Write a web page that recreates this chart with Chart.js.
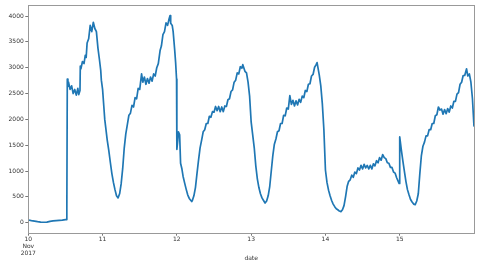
<!DOCTYPE html>
<html><head><meta charset="utf-8">
<script src="https://cdn.jsdelivr.net/npm/chart.js@4"></script>
<style>html,body{margin:0;padding:0;background:#fff}#w{width:500px;height:265px}</style>
</head><body><div id="w"><canvas id="c"></canvas></div>
<script>
// time in hours since 2017-11-10 00:00
const hours = [0,1,2,3,4,5,6,7,8,9,10,11,12,12.3,12.4,12.5,12.6,
12.8,13,13.5,14,14.5,15,15.5,16,16.3,16.7,16.8,
17,17.5,18,18.4,18.7,19,19.5,20,20.5,21,21.5,22,22.5,23,23.4,23.6,24,24.4,24.7,25,25.5,26,26.5,27,27.5,28,28.5,29,29.5,30,30.5,31,31.5,32,32.5,33,33.5,34,34.5,35,35.5,36,36.6,37,37.5,38,38.5,39,39.5,40,40.5,41,41.5,42,42.6,43,43.5,44,44.5,45,45.5,45.8,46,46.5,46.8,47.3,47.6,47.9,
48,48.3,48.5,48.9,49.2,49.6,50,50.5,51,51.5,52,52.8,53,53.5,54,54.5,55,55.5,56,56.5,57,57.5,58,58.5,59,59.5,60,60.5,61,61.5,62,62.5,63,63.5,64,64.5,65,65.5,66,66.5,67,67.5,68,68.5,69,69.3,70,70.5,71,71.5,
72,72.5,73,73.5,74,74.5,75,75.5,76,76.5,77,77.5,78,78.5,79,79.5,80,80.5,81,81.5,82,82.5,83,83.5,84,84.5,85,85.5,86,86.5,87,87.5,88,88.5,89,89.5,90,90.5,91,91.5,92,92.5,93,93.3,94,94.5,95,95.5,
96,96.5,97,97.5,98,98.5,99,99.5,100,100.5,101,101.5,102,102.5,103,103.5,104,104.5,105,105.5,106,106.5,107,107.5,108,108.5,109,109.5,110,110.5,111,111.5,112,112.5,113,113.5,114,114.5,115,115.5,116,116.5,117,117.5,118,118.5,119,119.8,
120,120.5,121,121.5,122,122.5,123,123.5,124,124.5,125,125.5,126,126.5,127,127.5,128,128.5,129,129.5,130,130.5,131,131.5,132,132.5,133,133.5,134,134.5,135,135.5,136,136.5,137,137.5,138,138.5,139,139.5,140,140.5,141,141.6,142,142.5,143,143.5,144];
const values = [52,40,30,20,12,8,10,25,35,40,45,50,58,60,220,250,2780,
2640,2720,2580,2650,2500,2580,2470,2600,2480,2560,3030,
2980,3120,3080,3240,3200,3480,3560,3820,3700,3880,3760,3700,3380,3150,2950,2760,2580,2250,2000,1850,1600,1400,1170,950,780,640,520,480,560,750,1050,1450,1720,1900,2080,2120,2270,2240,2420,2400,2600,2580,2880,2720,2820,2680,2790,2700,2820,2740,2880,2840,3000,3080,3340,3420,3640,3700,3870,3820,3950,4010,3860,3820,3700,3340,3100,2780,
1420,1600,1760,1700,1150,1050,900,770,650,540,470,410,430,520,680,950,1210,1450,1600,1760,1800,1920,1920,2060,2040,2150,2140,2250,2170,2250,2150,2240,2150,2260,2250,2380,2400,2540,2570,2720,2760,2900,2880,3020,2990,3060,2930,2900,2720,2450,
1950,1700,1450,1100,850,680,560,480,430,380,420,520,700,1000,1300,1520,1620,1760,1780,1920,1920,2080,2070,2220,2200,2460,2290,2370,2260,2360,2280,2390,2330,2450,2420,2560,2540,2680,2690,2840,2870,3010,3060,3100,2860,2650,2300,1800,
1020,780,630,520,430,360,310,270,250,225,215,250,330,500,700,800,830,920,880,980,950,1060,1020,1110,1040,1130,1060,1110,1040,1110,1040,1140,1100,1200,1160,1260,1210,1320,1260,1240,1160,1150,1070,1070,980,960,870,760,
1660,1420,1200,1000,800,640,540,450,400,360,350,420,560,950,1300,1480,1560,1680,1680,1800,1800,1920,1920,2070,2090,2240,2180,2200,2100,2190,2110,2210,2140,2260,2220,2350,2350,2490,2520,2680,2720,2850,2850,2980,2840,2880,2720,2400,1860];
const xTickDays = [0,1,2,3,4,5];
const xTickLabels = [["10","Nov","2017"],"11","12","13","14","15"];
const yTicks = [0,500,1000,1500,2000,2500,3000,3500,4000];
const xTitle = "date";

const pts = hours.map((h,i)=>({x:h/24, y:values[i]}));
const frame = {id:'frame', afterDraw(ch){const a=ch.chartArea,c=ch.ctx;c.save();c.strokeStyle='#999';c.lineWidth=1;c.strokeRect(Math.round(a.left)+0.5,Math.round(a.top)+0.5,Math.round(a.right-a.left),Math.round(a.bottom-a.top));c.restore();}};
new Chart(document.getElementById('c'),{
  type:'line',
  data:{datasets:[{data:pts,borderColor:'#1f77b4',borderWidth:1.7,pointRadius:0,tension:0,fill:false,borderJoinStyle:'round'}]},
  options:{responsive:true,maintainAspectRatio:false,animation:false,
    layout:{padding:{left:0,right:26,top:5,bottom:0}},
    plugins:{legend:{display:false},tooltip:{enabled:false}},
    scales:{
      x:{type:'linear',min:0,max:6,
        afterBuildTicks(s){s.ticks=xTickDays.map(v=>({value:v}));},
        afterFit(s){s.height=32.3;},
        ticks:{autoSkip:false,maxRotation:0,padding:0,font:{family:'DejaVu Sans',size:6},color:'#333',lineHeight:1.15,
          callback(v){const i=xTickDays.indexOf(v);return i>=0?xTickLabels[i]:'';}},
        grid:{display:true,drawOnChartArea:false,drawTicks:true,tickLength:3,color:'#777'},
        border:{display:false},
        title:{display:true,text:xTitle,font:{family:'DejaVu Sans',size:6},color:'#333',padding:{top:0,bottom:3}}
      },
      y:{type:'linear',min:-194,max:4213,
        afterBuildTicks(s){s.ticks=yTicks.map(v=>({value:v}));},
        afterFit(s){s.width=28.3;},
        ticks:{padding:1.5,font:{family:'DejaVu Sans',size:6},color:'#333',callback:v=>String(v)},
        grid:{display:true,drawOnChartArea:false,drawTicks:true,tickLength:3,color:'#777'},
        border:{display:false}
      }
    }
  },
  plugins:[frame]
});
</script></body></html>
